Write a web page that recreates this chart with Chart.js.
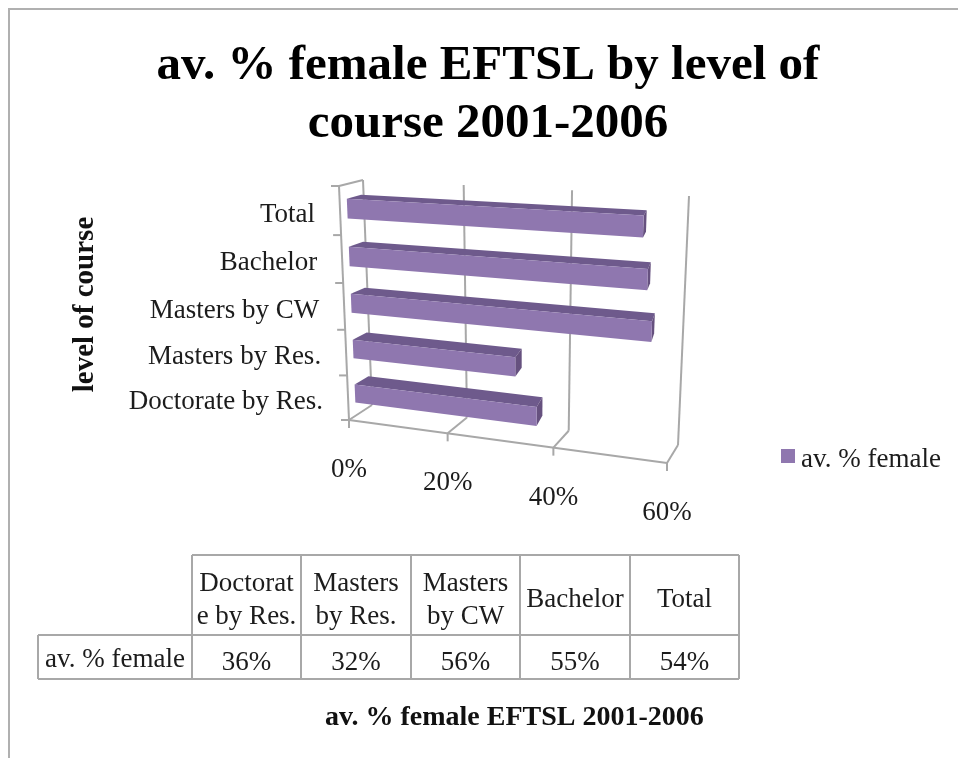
<!DOCTYPE html>
<html>
<head>
<meta charset="utf-8">
<style>html,body{margin:0;padding:0;background:#fff}#w{width:958px;height:758px}canvas{display:block}</style>
<script src="https://cdn.jsdelivr.net/npm/chart.js@4/dist/chart.umd.min.js"></script>
</head>
<body>
<div id="w"><canvas id="c" width="958" height="758"></canvas></div>
<script>
const categories = ['Doctorate by Res.', 'Masters by Res.', 'Masters by CW', 'Bachelor', 'Total'];
const femaleShare = [36, 32, 56, 55, 54];
const seriesName = 'av. % female';
const tableHeaderLines = [['Doctorat', 'e by Res.'], ['Masters', 'by Res.'], ['Masters', 'by CW'], ['Bachelor'], ['Total']];
const chartTitle = ['av. % female EFTSL by level of', 'course 2001-2006'];
const xAxisTitle = 'av. % female EFTSL 2001-2006';
const yAxisTitle = 'level of course';

const SERIF = '"Liberation Serif", serif';
const FACE = '#8f77af', TOP = '#6e5a8c', END = '#66517f', GRID = '#a8a8a8', TEXT = '#1c1c1c';

function quad(p0, p1, p2, p3) {
  const sx = p0[0]-p1[0]+p2[0]-p3[0], sy = p0[1]-p1[1]+p2[1]-p3[1];
  const dx1 = p1[0]-p2[0], dx2 = p3[0]-p2[0], dy1 = p1[1]-p2[1], dy2 = p3[1]-p2[1];
  const den = dx1*dy2-dx2*dy1;
  const g = (sx*dy2-dx2*sy)/den, h = (dx1*sy-sx*dy1)/den;
  const a = p1[0]-p0[0]+g*p1[0], b = p3[0]-p0[0]+h*p3[0], d = p1[1]-p0[1]+g*p1[1], e = p3[1]-p0[1]+h*p3[1];
  return (u, v) => { const w = g*u+h*v+1; return [(a*u+b*v+p0[0])/w, (d*u+e*v+p0[1])/w]; };
}
const frontPlane = quad([339,186],[678,204],[667,463],[349,420]);
const backPlane  = quad([363,180],[689,196],[678,445],[372,405]);
function project(u, v, z) {
  const f = frontPlane(u, v), b = backPlane(u, v);
  return [f[0]+(b[0]-f[0])*z, f[1]+(b[1]-f[1])*z];
}
const BAR_Z0 = 0.3, BAR_Z1 = 0.9, BAR_TAPER = 0.0125;

function line(ctx, a, b) { ctx.beginPath(); ctx.moveTo(a[0], a[1]); ctx.lineTo(b[0], b[1]); ctx.stroke(); }
function poly(ctx, pts, color) {
  ctx.fillStyle = color; ctx.beginPath();
  pts.forEach((p, i) => i ? ctx.lineTo(p[0], p[1]) : ctx.moveTo(p[0], p[1]));
  ctx.closePath(); ctx.fill();
}

const perspectivePlugin = {
  id: 'perspective',
  afterLayout(chart) {
    const l = chart.legend; const w = l.width, h = l.height;
    l.left = 779.5; l.top = 438; l.right = l.left + w; l.bottom = l.top + h;
  },
  beforeDraw(chart) {
    const ctx = chart.ctx;
    ctx.save();
    ctx.fillStyle = '#fff'; ctx.fillRect(0, 0, chart.width, chart.height);
    ctx.strokeStyle = '#b0b0b0'; ctx.lineWidth = 2;
    ctx.beginPath(); ctx.moveTo(9, 758); ctx.lineTo(9, 9); ctx.lineTo(958, 9); ctx.stroke();
    ctx.restore();
  },
  beforeDatasetsDraw(chart) {
    const ctx = chart.ctx, a = chart.chartArea, sx = chart.scales.x, sy = chart.scales.y;
    const U = val => (sx.getPixelForValue(val) - a.left) / (a.right - a.left);
    const V = px => (px - a.top) / (a.bottom - a.top);
    ctx.save();
    ctx.strokeStyle = GRID; ctx.lineWidth = 2; ctx.lineCap = 'butt';
    sx.ticks.forEach(t => {
      const u = U(t.value);
      line(ctx, project(u, 0, 1), project(u, 1, 1));
      line(ctx, project(u, 1, 0), project(u, 1, 1));
      const p = project(u, 1, 0);
      line(ctx, p, [p[0], p[1] + 8]);
    });
    line(ctx, project(0, 1, 0), project(1, 1, 0));
    line(ctx, project(0, 0, 0), project(0, 1, 0));
    line(ctx, project(0, 0, 0), project(0, 0, 1));
    for (let i = 0; i <= categories.length; i++) {
      const p = project(0, i / categories.length, 0);
      line(ctx, p, [p[0] - 8, p[1]]);
    }
    ctx.fillStyle = TEXT; ctx.font = '27px ' + SERIF; ctx.textBaseline = 'middle';
    ctx.textAlign = 'center';
    sx.ticks.forEach(t => {
      const p = project(U(t.value), 1, 0);
      ctx.fillText(t.label, p[0], p[1] + 50);
    });
    ctx.textAlign = 'right';
    sy.ticks.forEach(t => {
      const c = sy.getPixelForValue(t.value);
      const p = project(0, V(c), 0);
      ctx.fillText(t.label, p[0] - 25, p[1] + 4);
    });
    ctx.restore();
  },
  beforeDatasetDraw(chart, args) {
    const ctx = chart.ctx, a = chart.chartArea;
    const W = a.right - a.left, H = a.bottom - a.top;
    ctx.save();
    args.meta.data.forEach(bar => {
      const p = bar.getProps(['x', 'y', 'base', 'height'], true);
      const u0 = (p.base - a.left) / W, u1 = (p.x - a.left) / W;
      const v0 = (p.y - p.height / 2 - a.top) / H, v1 = (p.y + p.height / 2 - a.top) / H;
      const fTL = project(u0, v0, BAR_Z0), fTR = project(u1, v0, BAR_Z0), fBR = project(u1, v1, BAR_Z0), fBL = project(u0, v1, BAR_Z0);
      const bTL = project(u0, v0, BAR_Z1), bTR = project(u1 - BAR_TAPER, v0, BAR_Z1), bBR = project(u1 - BAR_TAPER, v1, BAR_Z1);
      poly(ctx, [fTL, bTL, bTR, fTR], TOP);
      poly(ctx, [fTR, bTR, bBR, fBR], END);
      poly(ctx, [fTL, fTR, fBR, fBL], FACE);
    });
    ctx.restore();
    return false;
  },
  afterDraw(chart) {
    const ctx = chart.ctx;
    const cols = [192, 301, 411, 520, 630, 739];
    const top = 555, mid = 635, bot = 679, left = 38;
    ctx.save();
    ctx.fillStyle = chart.legend.legendItems[0].fillStyle;
    ctx.fillRect(781, 449, 14, 14);
    ctx.strokeStyle = GRID; ctx.lineWidth = 2;
    ctx.beginPath();
    ctx.moveTo(cols[0], top); ctx.lineTo(cols[5], top);
    ctx.moveTo(left, mid); ctx.lineTo(cols[5], mid);
    ctx.moveTo(left, bot); ctx.lineTo(cols[5], bot);
    ctx.moveTo(left, mid); ctx.lineTo(left, bot);
    cols.forEach(x => { ctx.moveTo(x, top); ctx.lineTo(x, bot); });
    ctx.stroke();
    ctx.fillStyle = TEXT; ctx.font = '27px ' + SERIF; ctx.textAlign = 'center'; ctx.textBaseline = 'middle';
    ctx.fillText(seriesName, (left + cols[0]) / 2, 660);
    tableHeaderLines.forEach((lines, i) => {
      const cx = (cols[i] + cols[i + 1]) / 2;
      if (lines.length === 2) { ctx.fillText(lines[0], cx, 584); ctx.fillText(lines[1], cx, 617); }
      else ctx.fillText(lines[0], cx, 600);
      ctx.fillText(femaleShare[i] + '%', cx, 663);
    });
    ctx.restore();
  }
};

new Chart(document.getElementById('c'), {
  type: 'bar',
  data: {
    labels: categories,
    datasets: [{ label: seriesName, data: femaleShare, backgroundColor: FACE, borderWidth: 0, barPercentage: 0.41, categoryPercentage: 1 }]
  },
  options: {
    indexAxis: 'y',
    responsive: false,
    animation: false,
    layout: { padding: { left: 48, right: 30, top: 20, bottom: 20 } },
    plugins: {
      title: { display: true, text: chartTitle, color: '#000', font: { family: SERIF, size: 49, weight: 'bold', lineHeight: 1.19 }, padding: { top: 17, bottom: 30 } },
      legend: { display: true, position: 'chartArea', align: 'start', labels: { boxWidth: 0, padding: 8, color: TEXT, font: { family: SERIF, size: 27 } } },
      tooltip: { enabled: false }
    },
    scales: {
      x: {
        min: 0, max: 60,
        ticks: { display: false, stepSize: 20, callback: v => v + '%' },
        grid: { display: false }, border: { display: false },
        title: { display: true, text: xAxisTitle, color: '#111', font: { family: SERIF, size: 28, weight: 'bold' }, padding: { top: 268, bottom: 3 } }
      },
      y: {
        reverse: true,
        ticks: { display: false, autoSkip: false },
        grid: { display: false }, border: { display: false },
        title: { display: true, text: yAxisTitle, color: '#111', font: { family: SERIF, size: 29, weight: 'bold' }, padding: { top: 20, bottom: -10 } }
      }
    }
  },
  plugins: [perspectivePlugin]
});
</script>
</body>
</html>
